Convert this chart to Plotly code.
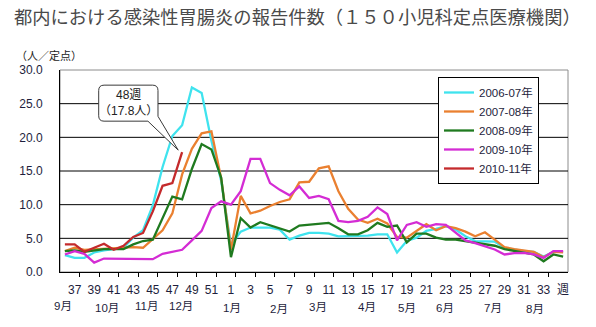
import plotly.graph_objects as go

# ---------------- data ----------------
weeks = list(range(36, 53)) + list(range(1, 36))

s2006_07 = [2.5, 2.1, 2.1, 2.9, 3.2, 3.4, 3.6, 5.1, 6.2, 9.9, 15.6, 20.2, 21.8, 27.4, 26.6, 19.5,
            13.5, 4.0, 6.0, 6.6, 6.6, 6.6, 6.3, 4.8, 5.4, 5.8, 5.8, 5.7, 5.3, 5.3, 5.3, 5.4,
            5.6, 5.6, 2.9, 4.6, 5.1, 6.1, 6.4, 6.8, 6.3, 5.3, 4.6, 4.5, 4.5, 3.6, 3.3, 3.1,
            3.0, 2.3, 3.0, 3.0]
s2007_08 = [3.1, 3.6, 3.3, 3.4, 3.4, 3.6, 3.6, 3.7, 3.6, 4.9, 6.2, 8.7, 14.5, 18.3, 20.6, 20.9,
            13.9, 3.3, 11.3, 8.7, 9.1, 9.8, 10.4, 10.8, 13.3, 13.4, 15.4, 15.7, 12.0, 9.4, 7.8, 7.3,
            7.9, 7.2, 5.2, 5.1, 6.1, 7.1, 6.2, 6.8, 6.5, 6.0, 5.3, 5.9, 4.8, 3.7, 3.4, 3.2,
            3.0, 2.2, 3.0, 2.9]
s2008_09 = [3.1, 3.2, 3.0, 3.2, 3.4, 3.4, 3.4, 4.1, 4.6, 4.8, 8.0, 11.2, 10.8, 15.3, 19.0, 18.2,
            14.0, 2.2, 8.0, 6.6, 7.4, 6.9, 6.4, 6.0, 6.9, 7.0, 7.2, 7.3, 6.5, 5.6, 5.6, 6.2,
            7.3, 6.7, 6.9, 4.4, 5.7, 5.7, 5.1, 4.8, 4.8, 4.6, 4.3, 4.1, 3.9, 3.4, 3.1, 2.9,
            2.6, 1.6, 2.6, 2.3]
s2009_10 = [2.6, 3.1, 2.7, 1.4, 2.0, 2.0, 2.0, 2.0, 2.0, 1.9, 2.7, 3.0, 3.3, 4.7, 6.1, 9.5,
            10.5, 10.0, 12.0, 16.8, 16.8, 13.2, 12.2, 11.4, 12.7, 11.0, 11.3, 10.8, 7.6, 7.4, 7.6, 8.2,
            9.6, 8.6, 4.7, 7.0, 7.4, 6.7, 7.1, 7.0, 5.8, 4.7, 4.3, 3.85, 3.35, 2.6, 2.8, 2.85,
            2.6, 2.1, 3.1, 3.1]
s2010_11 = [4.1, 4.1, 3.0, 3.6, 4.2, 3.3, 3.9, 5.2, 5.8, 9.0, 12.8, 13.2, 17.8]

series_names = ["2006-07年", "2007-08年", "2008-09年", "2009-10年", "2010-11年"]
series_values = [s2006_07, s2007_08, s2008_09, s2009_10, s2010_11]
series_colors = ["#3fe3ee", "#ea8030", "#1f7a1f", "#d42cd4", "#c42a2c"]

month_labels = ["9月", "10月", "11月", "12月", "1月", "2月", "3月", "4月", "5月", "6月", "7月", "8月"]
y_ticks = [0, 5, 10, 15, 20, 25, 30]
title_text = "都内における感染性胃腸炎の報告件数（１５０小児科定点医療機関）"
y_unit = "（人／定点）"
callout_text = "48週<br>（17.8人）"

# ---------------- layout helpers ----------------
month_x = [-0.19, 4.31, 8.37, 11.88, 17.07, 21.94, 25.94, 30.89, 34.98, 38.9, 43.85, 48.1]
month_py = [306, 308, 306, 306, 308, 309, 307, 307, 308, 308, 308, 309]

x_idx = list(range(len(weeks)))
tick_idx = [i for i, w in enumerate(weeks) if w % 2 == 1]
tick_txt = [str(weeks[i]) for i in tick_idx]
tick_txt[-1] = "週"
minor_ticks = [i + 0.5 for i in range(1, len(weeks) - 1, 2)]

FONT = "Liberation Sans, Arial, Noto Sans CJK JP, sans-serif"
CJK = "Noto Sans CJK JP, sans-serif"
TXT = "#1e1e3c"

fig = go.Figure()
for name, vals, col in zip(series_names, series_values, series_colors):
    fig.add_trace(go.Scatter(
        x=x_idx[:len(vals)], y=vals, mode="lines", name=name,
        line=dict(color=col, width=2.3), hoverinfo="skip"))

shapes = []
# plot-area border (gray)
shapes.append(dict(type="rect", xref="paper", yref="paper", x0=0, x1=1, y0=0, y1=1,
                   line=dict(color="#8c8c8c", width=1), fillcolor="rgba(0,0,0,0)", layer="below"))
for v in y_ticks[1:-1]:
    shapes.append(dict(type="line", xref="paper", yref="y", x0=0, x1=1, y0=v, y1=v,
                       line=dict(color="black", width=1), layer="below"))

# callout bubble (data coords)
xl, xr, yb, yt = 3.46, 9.53, 22.4, 27.75
rx, ry = 0.55, 0.8
tipx, tipy = 11.6, 18.1
tailx = 8.5
path = (f"M {xl+rx},{yt} L {xr-rx},{yt} Q {xr},{yt} {xr},{yt-ry} "
        f"L {xr},{yb+ry*0.9} L {tipx},{tipy} L {tailx},{yb} "
        f"L {xl+rx},{yb} Q {xl},{yb} {xl},{yb+ry} L {xl},{yt-ry} Q {xl},{yt} {xl+rx},{yt} Z")
shapes.append(dict(type="path", path=path, xref="x", yref="y",
                   line=dict(color="#3a3a3a", width=1), fillcolor="white", layer="above"))

annotations = []
annotations.append(dict(text=callout_text, x=(xl + xr) / 2, y=(yb + yt) / 2, xref="x", yref="y",
                        showarrow=False, font=dict(family=FONT, size=12, color="#222"),
                        xanchor="center", yanchor="middle"))
for lab, mx, py in zip(month_labels, month_x, month_py):
    annotations.append(dict(text=lab, x=mx, y=0, xref="x", yref="paper", yanchor="middle",
                            yshift=-(py - 272), showarrow=False,
                            font=dict(family=FONT, size=11.5, color=TXT)))
annotations.append(dict(text=y_unit, x=(14 - 60) / 508, y=1, yshift=15, xref="paper", yref="paper",
                        xanchor="left", yanchor="middle", showarrow=False,
                        font=dict(family=CJK, size=11, color="#222")))

fig.update_layout(
    width=596, height=327,
    margin=dict(l=60, r=28, t=70, b=55),
    paper_bgcolor="white", plot_bgcolor="white",
    showlegend=True,
    legend=dict(x=(438 - 60) / 508, y=(272 - 77) / 202, xanchor="left", yanchor="top",
                bgcolor="white", bordercolor="black", borderwidth=1,
                font=dict(family=FONT, size=11.5, color=TXT), tracegroupgap=0),
    title=dict(text=title_text, x=14 / 596, xref="container", xanchor="left",
               y=1 - 18 / 327, yref="container", yanchor="middle",
               font=dict(family=CJK, size=18.3, color="#4a4a4a")),
    xaxis=dict(range=[-0.5, len(weeks) - 0.5], tickmode="array", tickvals=tick_idx, ticktext=tick_txt,
               ticks="", showgrid=False, zeroline=False, showline=True, linecolor="black", linewidth=1,
               tickfont=dict(family=FONT, size=12, color=TXT), ticklabelstandoff=7,
               minor=dict(tickmode="array", tickvals=minor_ticks, ticks="outside", ticklen=4,
                          tickcolor="black", showgrid=False)),
    yaxis=dict(range=[0, 30], tickmode="array", tickvals=y_ticks, tickformat=".1f",
               ticks="", showgrid=False, zeroline=False, showline=True, linecolor="black", linewidth=1,
               tickfont=dict(family=FONT, size=12, color=TXT), ticklabelstandoff=14),
    shapes=shapes, annotations=annotations,
)

fig.write_html("out.html")
